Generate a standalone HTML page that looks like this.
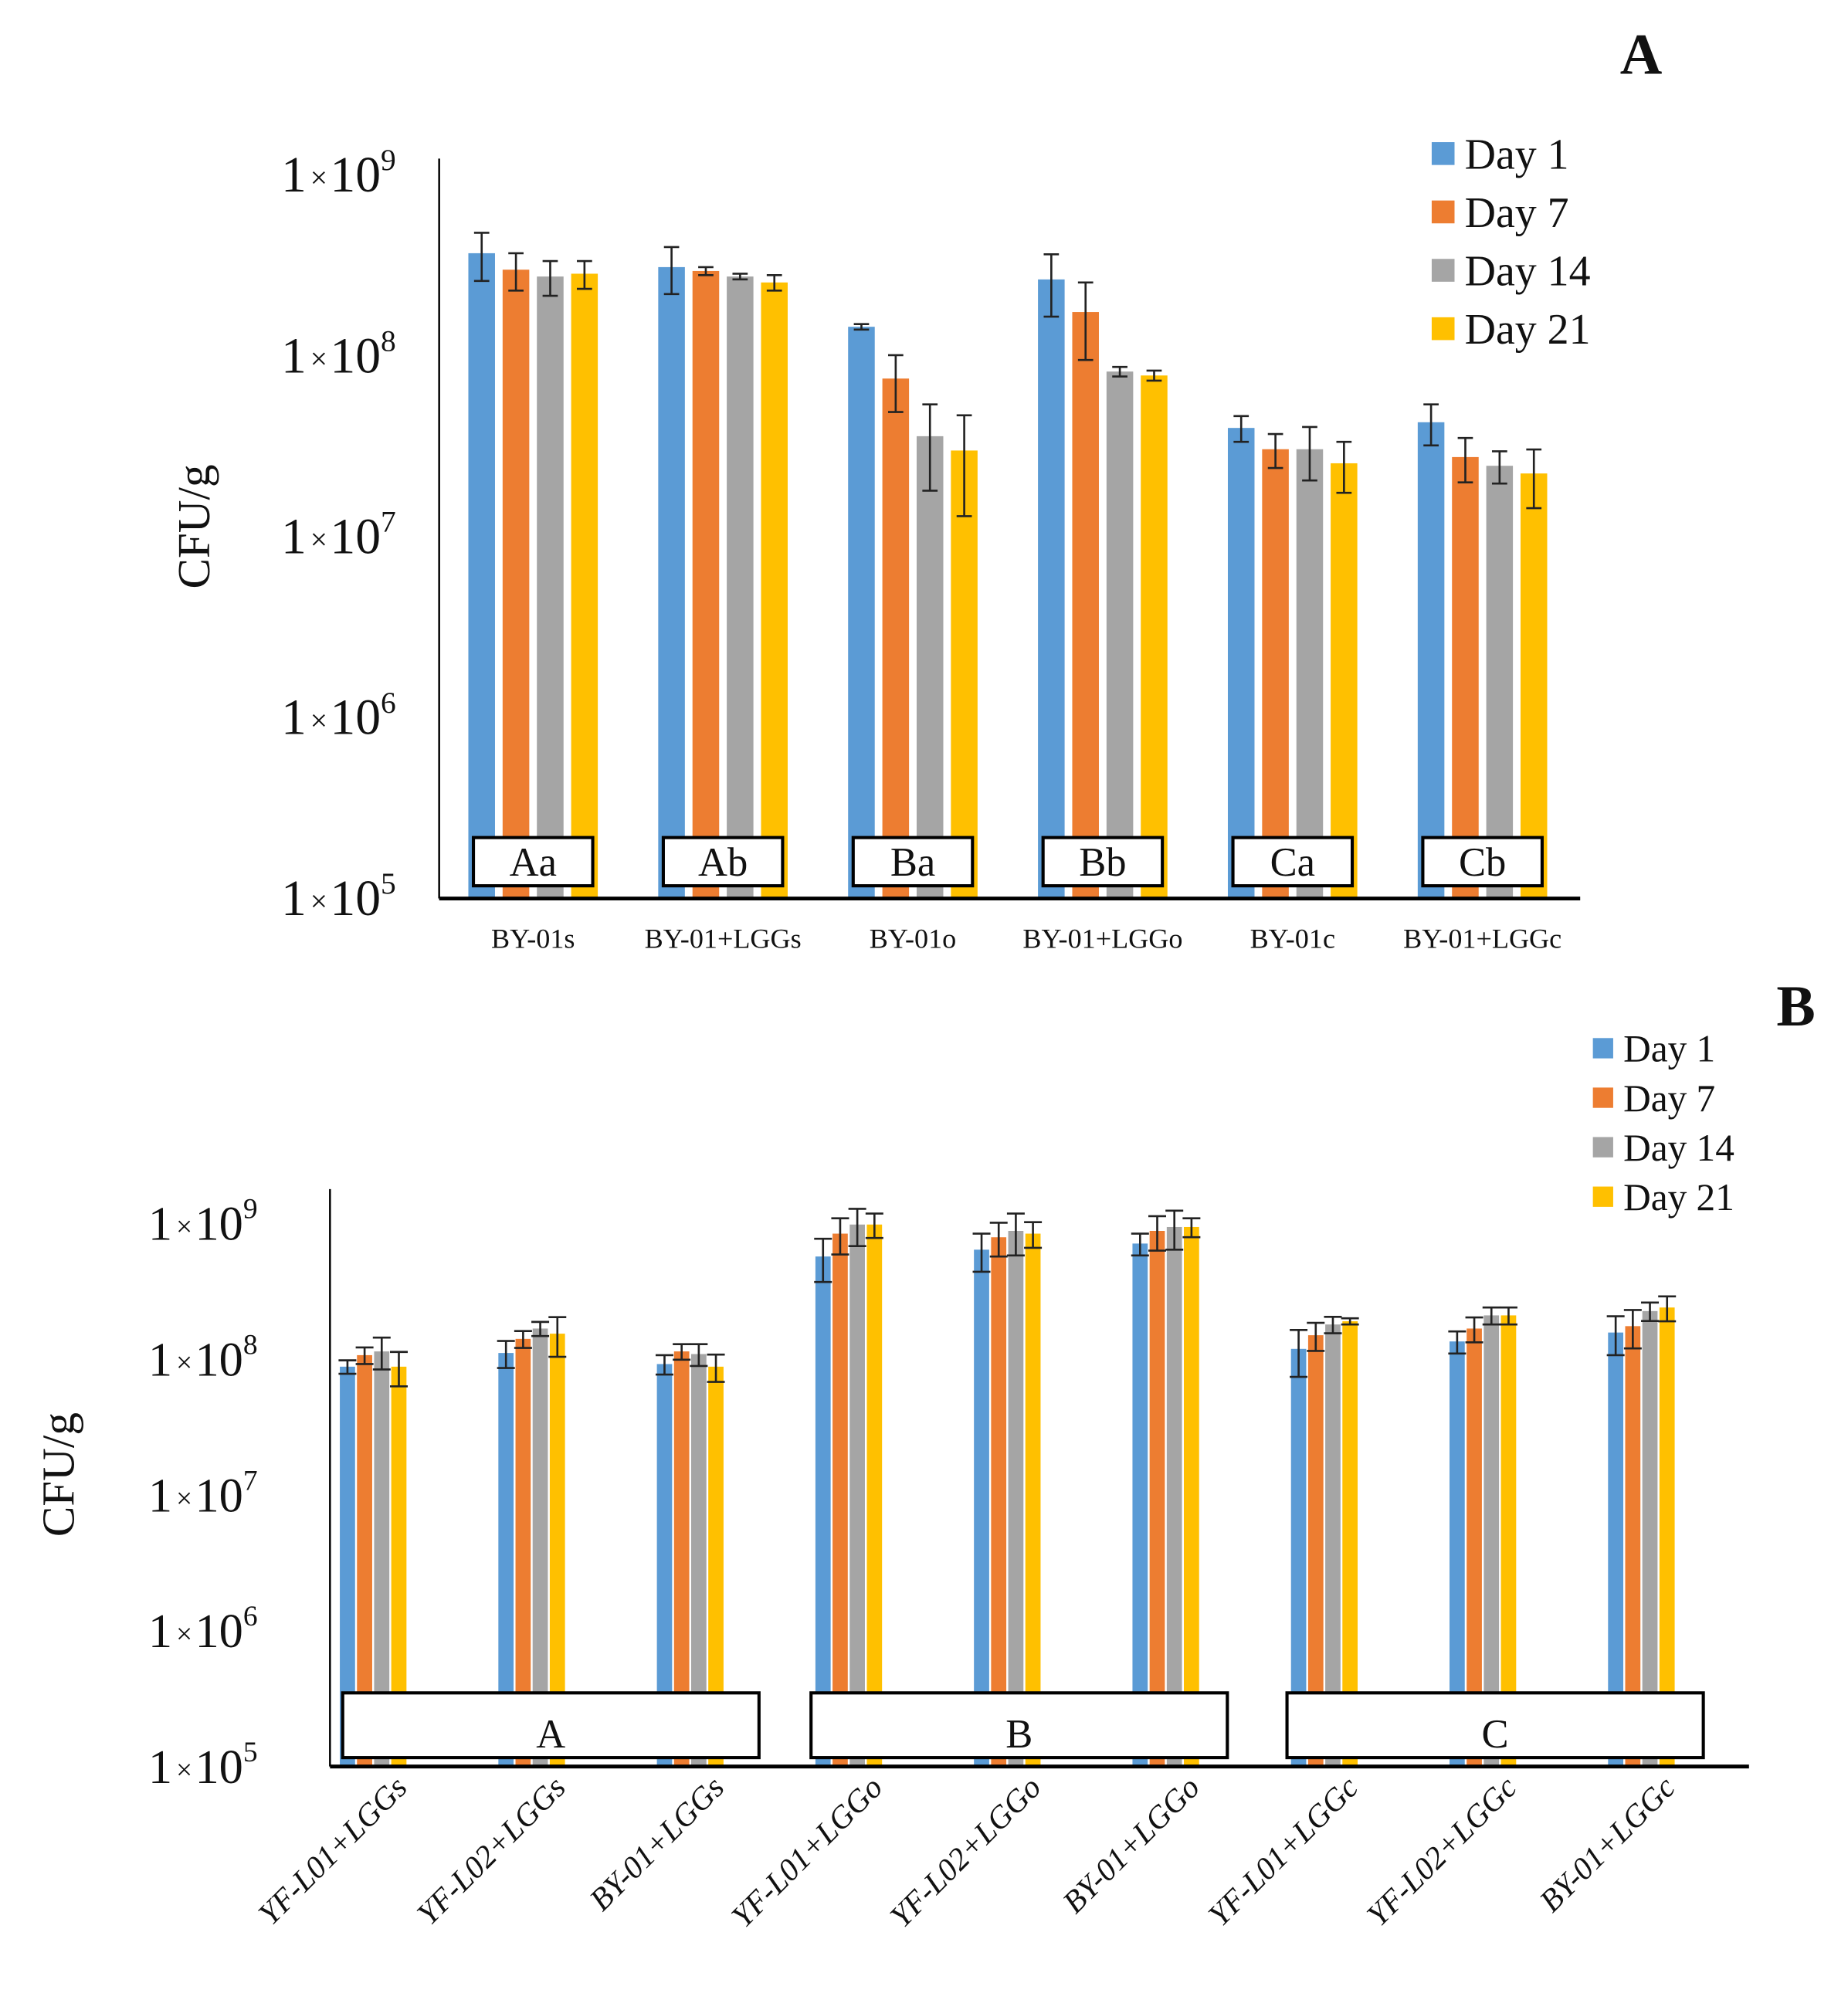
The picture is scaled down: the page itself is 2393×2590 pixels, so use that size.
<!DOCTYPE html>
<html><head><meta charset="utf-8"><style>
html,body{margin:0;padding:0;background:#fff;}
svg{display:block;}
text{font-family:"Liberation Serif",serif;fill:#111;}
</style></head><body>
<svg id="fig" width="2393" height="2590" viewBox="0 0 1456 1576" preserveAspectRatio="none" xmlns="http://www.w3.org/2000/svg">
<rect width="1456" height="1576" fill="#fff"/>
</svg>
<script>
// ---- Data panel A ----
const catsA = ["BY-01s","BY-01+LGGs","BY-01o","BY-01+LGGo","BY-01c","BY-01+LGGc"];
const boxA = ["Aa","Ab","Ba","Bb","Ca","Cb"];
const seriesNames = ["Day 1","Day 7","Day 14","Day 21"];
const aDay1 = [3.7e8,3.1e8,1.45e8,2.65e8,4.0e7,4.3e7];
const aDay7 = [3.0e8,2.95e8,7.5e7,1.75e8,3.05e7,2.76e7];
const aDay14 = [2.75e8,2.75e8,3.6e7,8.2e7,3.05e7,2.47e7];
const aDay21 = [2.85e8,2.55e8,3.0e7,7.8e7,2.55e7,2.24e7];
const aErr1 = [1.1e8,0.9e8,0.05e8,1.0e8,0.65e7,1.1e7];
const aErr7 = [0.7e8,0.15e8,2.6e7,0.8e8,0.65e7,0.76e7];
const aErr14 = [0.6e8,0.1e8,1.8e7,0.5e7,1.0e7,0.5e7];
const aErr21 = [0.5e8,0.25e8,1.7e7,0.5e7,0.8e7,0.8e7];
// ---- Data panel B ----
const catsB = ["YF-L01+LGGs","YF-L02+LGGs","BY-01+LGGs","YF-L01+LGGo","YF-L02+LGGo","BY-01+LGGo","YF-L01+LGGc","YF-L02+LGGc","BY-01+LGGc"];
const boxB = ["A","B","C"];
const bDay1 = [8.8e7,1.11e8,9.2e7,5.7e8,6.4e8,7.1e8,1.19e8,1.35e8,1.57e8];
const bDay7 = [1.07e8,1.41e8,1.14e8,8.4e8,7.9e8,8.8e8,1.5e8,1.68e8,1.75e8];
const bDay14 = [1.14e8,1.68e8,1.09e8,9.8e8,8.8e8,9.4e8,1.8e8,2.1e8,2.26e8];
const bDay21 = [8.8e7,1.54e8,8.8e7,9.8e8,8.4e8,9.4e8,1.9e8,2.1e8,2.4e8];
const bErr1 = [0.1e8,0.25e8,0.15e8,2.0e8,2.0e8,1.3e8,0.45e8,0.25e8,0.5e8];
const bErr7 = [0.15e8,0.2e8,0.15e8,2.5e8,2.2e8,2.5e8,0.35e8,0.35e8,0.55e8];
const bErr14 = [0.3e8,0.2e8,0.2e8,3.0e8,3.0e8,3.0e8,0.25e8,0.3e8,0.35e8];
const bErr21 = [0.25e8,0.5e8,0.2e8,2.0e8,1.8e8,1.5e8,0.1e8,0.3e8,0.5e8];
const tickExps = [5,6,7,8,9];
const colors = ["#5b9bd5","#ed7d31","#a5a5a5","#ffc000"];

const svg = document.getElementById('fig');
const NS = "http://www.w3.org/2000/svg";
function mk(tag, attrs, parent){const e=document.createElementNS(NS,tag);for(const k in attrs)e.setAttribute(k,attrs[k]);(parent||svg).appendChild(e);return e;}

function panel(o){
  const g = mk('g',{});
  
  
  const y = v => o.base - (Math.log10(v) - 5) * o.dec;
  const xc = i => o.x0 + i * o.step;
  const series=[o.s1,o.s2,o.s3,o.s4], errs=[o.e1,o.e2,o.e3,o.e4];
  for(let s=0;s<4;s++){
    for(let i=0;i<o.cats.length;i++){
      const cx = xc(i) + (s-1.5)*o.bstep;
      const top = y(series[s][i]);
      const r = mk('rect',{x:cx-o.bw/2,y:top,width:o.bw,height:o.base-top,fill:colors[s]},g);
      
      
    }
  }
  for(let s=0;s<4;s++){
    for(let i=0;i<o.cats.length;i++){
      const cx = xc(i) + (s-1.5)*o.bstep;
      const v=series[s][i], e=errs[s][i];
      const y1=y(v+e), y2=y(Math.max(v-e,1e5));
      const eg = mk('g',{stroke:"#222","stroke-width":1.6},g);
      
      
      mk('line',{x1:cx,x2:cx,y1:y1,y2:y2},eg);
      mk('line',{x1:cx-o.cap,x2:cx+o.cap,y1:y1,y2:y1},eg);
      mk('line',{x1:cx-o.cap,x2:cx+o.cap,y1:y2,y2:y2},eg);
    }
  }
  const ya = mk('line',{x1:o.ax,x2:o.ax,y1:o.atop,y2:o.base,stroke:"#000","stroke-width":1.5},g);
   
  const xa = mk('line',{x1:o.ax,x2:o.aright,y1:o.base,y2:o.base,stroke:"#000","stroke-width":3},g);
   
  tickExps.forEach(ex=>{
    const t = mk('text',{x:o.tickX,y:y(Math.pow(10,ex))+13,"text-anchor":"end","font-size":o.tfs},g);
    
    
    t.innerHTML = '1<tspan font-size="'+(o.tfs*0.6)+'" dx="3" dy="-3">×</tspan><tspan dx="2" dy="3">10</tspan><tspan font-size="'+(o.tfs*0.6)+'" dy="-17">'+ex+'</tspan>';
  });
  const yt = mk('text',{x:0,y:0,transform:'translate('+o.ytx+','+o.yty+') rotate(-90)',"text-anchor":"middle","font-size":o.ytfs},g);
   
  yt.textContent='CFU/g';
  o.cats.forEach((c,i)=>{
    let t;
    if(o.rot){
      t = mk('text',{x:0,y:0,transform:'translate('+(xc(i)+28)+','+o.catY+') rotate(-45)',"text-anchor":"end","font-size":o.cfs,"font-style":"italic"},g);
    } else {
      t = mk('text',{x:xc(i),y:o.catY,"text-anchor":"middle","font-size":o.cfs},g);
    }
    
    
    t.textContent=c;
  });
  o.boxes.forEach(b=>{
    const bg = mk('g',{},g);
    
    
    mk('rect',{x:b.x,y:b.y,width:b.w,height:b.h,fill:"#fff",stroke:"#000","stroke-width":2.5},bg);
    const t=mk('text',{x:b.x+b.w/2,y:b.y+b.h-8,"text-anchor":"middle","font-size":o.bfs},bg);
    t.textContent=b.t;
  });
  seriesNames.forEach((n,s)=>{
    const lg = mk('g',{},g);
    
    
    mk('rect',{x:o.lx,y:o.ly+s*o.lstep-o.lsq/2,width:o.lsq,height:o.lsq,fill:colors[s]},lg);
    const t=mk('text',{x:o.lx+o.lsq+8,y:o.ly+s*o.lstep+o.lfs*0.35,"font-size":o.lfs},lg);
    t.textContent=n;
  });
  const pl = mk('text',{x:o.px,y:o.py,"font-size":46,"font-weight":"bold","text-anchor":"middle"},g);
   
  pl.textContent=o.letter;
}

panel({name:'chart-a',cats:catsA,s1:aDay1,s2:aDay7,s3:aDay14,s4:aDay21,e1:aErr1,e2:aErr7,e3:aErr14,e4:aErr21,
  base:708,dec:142.5,x0:420,step:149.6,bw:21,bstep:27,cap:6,ax:346,atop:125,aright:1245,
  tickX:312,tfs:40,ytx:165,yty:415,ytfs:36,catY:747,cfs:22,rot:false,
  boxes:boxA.map((t,i)=>({x:420+i*149.6-47,y:660,w:94,h:38,t:t})),bfs:32,
  lx:1128,ly:121,lstep:46,lsq:18,lfs:34,letter:'A',px:1293,py:58});

const bBoxX=[270,639,1014];
panel({name:'chart-b',cats:catsB,s1:bDay1,s2:bDay7,s3:bDay14,s4:bDay21,e1:bErr1,e2:bErr7,e3:bErr14,e4:bErr21,
  base:1392,dec:107,x0:294,step:124.9,bw:12,bstep:13.5,cap:7,ax:260,atop:937,aright:1378,
  tickX:203,tfs:38,ytx:58,yty:1162,ytfs:36,catY:1410,cfs:25,rot:true,
  boxes:boxB.map((t,i)=>({x:bBoxX[i],y:1334,w:328,h:51,t:t})),bfs:32,
  lx:1255,ly:826,lstep:39,lsq:16,lfs:30,letter:'B',px:1415,py:808});
</script>
</body></html>
